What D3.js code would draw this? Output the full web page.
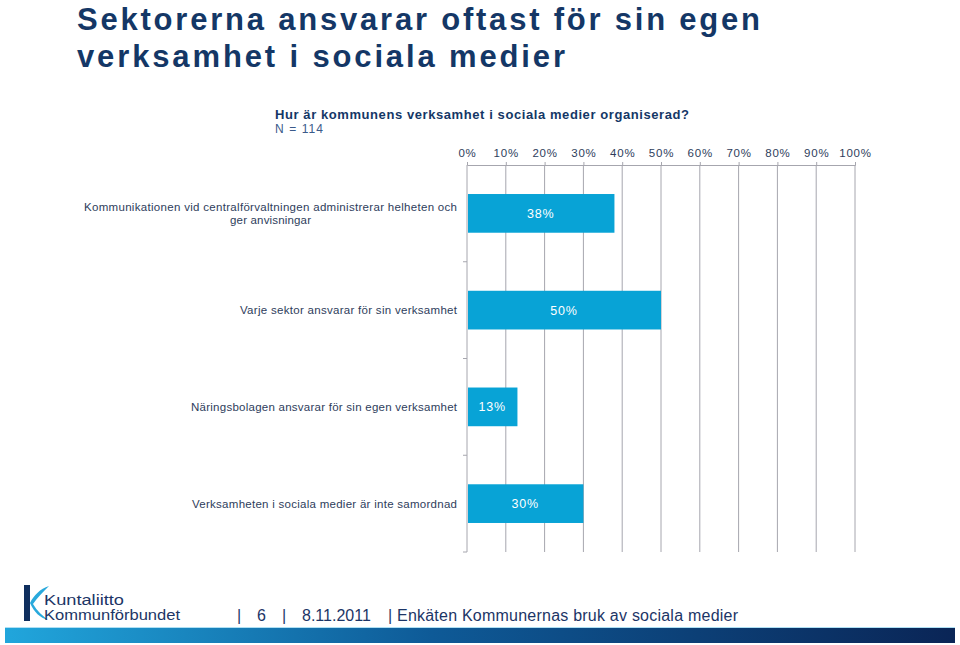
<!DOCTYPE html>
<html><head><meta charset="utf-8">
<script src="https://cdn.jsdelivr.net/npm/d3@7"></script>
<style>
body{margin:0;background:#fff;}
svg{display:block;font-family:"Liberation Sans",Arial,sans-serif;}
</style></head>
<body><svg id="c" width="960" height="645"></svg>
<script>
const categories = [
  ["Kommunikationen vid centralförvaltningen administrerar helheten och","ger anvisningar"],
  ["Varje sektor ansvarar för sin verksamhet"],
  ["Näringsbolagen ansvarar för sin egen verksamhet"],
  ["Verksamheten i sociala medier är inte samordnad"]
];
const values = [38, 50, 13, 30];
const tickValues = [0,10,20,30,40,50,60,70,80,90,100];
const titleLines = ["Sektorerna ansvarar oftast för sin egen","verksamhet i sociala medier"];
const subtitle = "Hur är kommunens verksamhet i sociala medier organiserad?";
const nText = "N = 114";

const svg = d3.select("#c");
const navy = "#143766";
const textCol = "#2e3d5c";

// Title
svg.selectAll("text.title").data(titleLines).join("text")
  .attr("x",77).attr("y",(d,i)=>30+i*37)
  .attr("font-size",31).attr("font-weight","bold").attr("fill",navy)
  .attr("textLength",(d,i)=>i===0?683:488).attr("lengthAdjust","spacing")
  .text(d=>d);

svg.append("text").attr("x",275).attr("y",119).attr("font-size",13).attr("font-weight","bold")
  .attr("fill",navy).attr("textLength",414).attr("lengthAdjust","spacing").text(subtitle);
svg.append("text").attr("x",275).attr("y",133).attr("font-size",12).attr("fill","#3a5a8a")
  .attr("textLength",48).attr("lengthAdjust","spacing").text(nText);

const x = d3.scaleLinear().domain([0,100]).range([467,855]);
const y = d3.scaleBand().domain(d3.range(categories.length)).range([165,552]).paddingInner(0.6).paddingOuter(0.3);
const step = y.step();

// gridlines
svg.append("g").selectAll("line").data(tickValues).join("line")
  .attr("x1",d=>x(d)).attr("x2",d=>x(d)).attr("y1",165).attr("y2",552)
  .attr("stroke","#a6a6ae").attr("stroke-width",1);

// top axis
const ax = svg.append("g").attr("transform","translate(0,165)")
  .call(d3.axisTop(x).tickValues(tickValues).tickSize(3).tickPadding(5).tickFormat(d=>d+"%"));
ax.select(".domain").attr("stroke","#a6a6ae");
ax.selectAll(".tick line").attr("stroke","#a6a6ae");
ax.selectAll("text").attr("font-size",11.5).attr("fill",textCol).attr("font-family","Liberation Sans, Arial, sans-serif").attr("letter-spacing","0.8px");

// left separators
svg.append("g").selectAll("line").data(d3.range(1,categories.length+1)).join("line")
  .attr("x1",463).attr("x2",467).attr("y1",k=>165+k*step).attr("y2",k=>165+k*step)
  .attr("stroke","#a6a6ae");

// bars
svg.append("g").selectAll("rect").data(values).join("rect")
  .attr("x",x(0)+1).attr("y",(d,i)=>y(i)).attr("width",d=>x(d)-x(0)-1).attr("height",y.bandwidth())
  .attr("fill","#08a3d6");
svg.append("g").selectAll("text").data(values).join("text")
  .attr("x",d=>(x(0)+x(d))/2).attr("y",(d,i)=>y(i)+y.bandwidth()/2+4.5)
  .attr("text-anchor","middle").attr("font-size",12.5).attr("fill","#fff").attr("letter-spacing","0.8px")
  .text(d=>d+"%");

// category labels
const labelWidths = [[373,81],[217],[266],[265]];
categories.forEach((lines,i)=>{
  const cy = y(i)+y.bandwidth()/2;
  if(lines.length>1){
    lines.forEach((t,j)=>{
      svg.append("text").attr("x",270.5).attr("y",cy-2+j*13).attr("text-anchor","middle")
        .attr("font-size",11.5).attr("fill",textCol)
        .attr("textLength",labelWidths[i][j]).attr("lengthAdjust","spacing").text(t);
    });
  } else {
    svg.append("text").attr("x",457).attr("y",cy+4).attr("text-anchor","end")
      .attr("font-size",11.5).attr("fill",textCol)
      .attr("textLength",labelWidths[i][0]).attr("lengthAdjust","spacing").text(lines[0]);
  }
});

// footer logo
const logo = svg.append("g");
logo.append("rect").attr("x",24).attr("y",585).attr("width",6).attr("height",36).attr("fill","#0f2f5e");
logo.append("path").attr("d","M30,603 C34,595 40,589 49,586 C43,592 37,598 33,604 C37,611 43,616 48,620 C40,618 34,612 30,603 Z").attr("fill","#29a9dc");
logo.append("text").attr("x",44).attr("y",605).attr("font-size",14).attr("fill","#1c3566").attr("font-family","Liberation Sans Narrow, Arial Narrow, sans-serif")
  .attr("textLength",80).attr("lengthAdjust","spacingAndGlyphs").text("Kuntaliitto");
logo.append("text").attr("x",44).attr("y",620).attr("font-size",14).attr("fill","#1c3566").attr("font-family","Liberation Sans Narrow, Arial Narrow, sans-serif")
  .attr("textLength",136).attr("lengthAdjust","spacingAndGlyphs").text("Kommunförbundet");

// footer text
const ft = [["|",237],["6",257],["|",282],["8.11.2011",302],["|",388],["Enkäten Kommunernas bruk av sociala medier",397]];
svg.append("g").selectAll("text").data(ft).join("text")
  .attr("x",d=>d[1]).attr("y",621).attr("font-size",16).attr("fill","#1c3566")
  .attr("textLength",d=>d[0].length>20?341:null).attr("lengthAdjust","spacing")
  .text(d=>d[0]);

// gradient bar
const grad = svg.append("defs").append("linearGradient").attr("id","g1");
grad.append("stop").attr("offset","0%").attr("stop-color","#21a6dc");
grad.append("stop").attr("offset","45%").attr("stop-color","#0e5a97");
grad.append("stop").attr("offset","100%").attr("stop-color","#0a2556");
svg.append("rect").attr("x",5).attr("y",627).attr("width",950).attr("height",1).attr("fill","#aee0f4");
svg.append("rect").attr("x",5).attr("y",628).attr("width",950).attr("height",15).attr("fill","url(#g1)");
</script></body></html>
